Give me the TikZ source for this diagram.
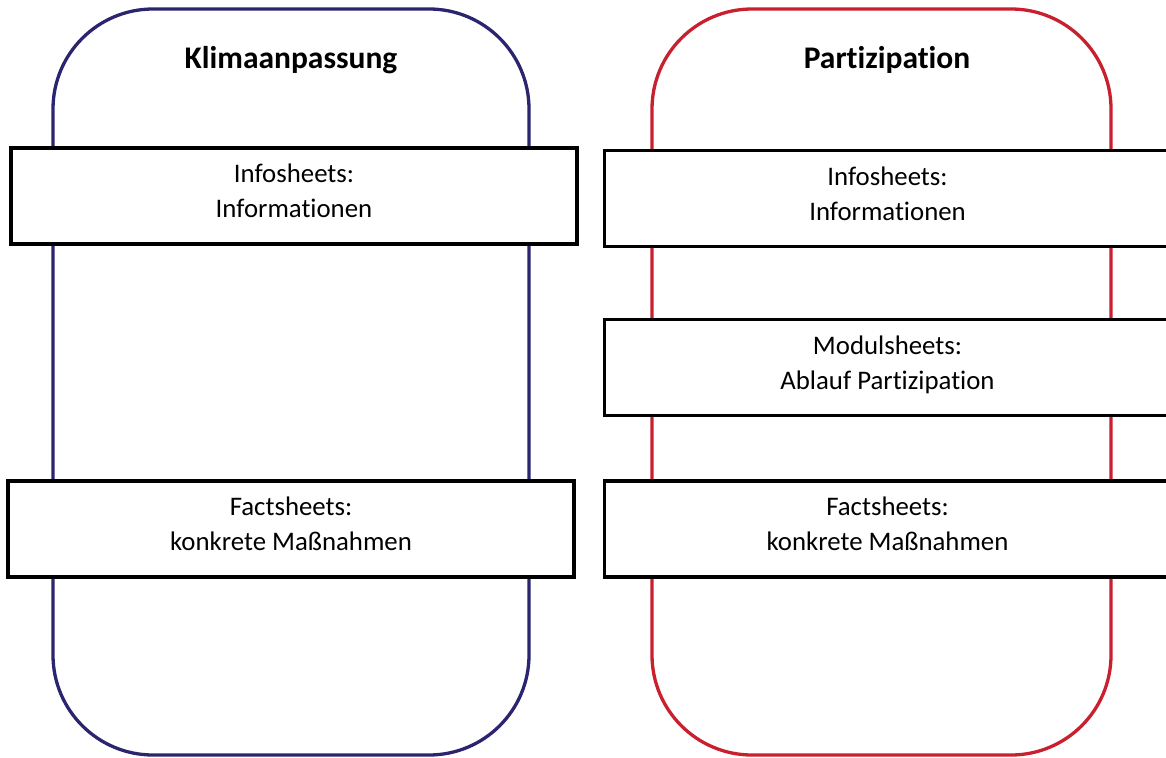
\documentclass[tikz,border=0pt]{standalone}
\usepackage{fontspec}
\setmainfont[Ligatures={NoCommon}]{Carlito}
\definecolor{navy}{HTML}{2B2570}
\definecolor{crimson}{HTML}{C8202F}
\newcommand{\lowstrut}{\rule[-10pt]{0pt}{10pt}}
\begin{document}
\begin{tikzpicture}[x=1pt,y=-1pt,
  container/.style={line width=3.3pt, rounded corners=100pt},
  sheet/.style={draw=black, fill=white, line width=3.3pt, minimum height=96pt, align=center,
    font=\fontsize{26.8}{35}\selectfont, inner sep=0pt},
  title/.style={font=\fontsize{31.5}{36}\selectfont\bfseries}]
\useasboundingbox (0,0) rectangle (1166,757);
\clip (0,0) rectangle (1166,757);
\draw[container, draw=navy] (53,9) rectangle (529,755);
\draw[container, draw=crimson] (652,9) rectangle (1111,755);
\node[title] (t1) at (291,60) {Klimaanpassung};
\node[title] (t2) at (887,60) {Partizipation};
\node[sheet, minimum width=566pt] (l1) at (294,196) {Infosheets:\\Informationen\lowstrut};
\node[sheet, minimum width=566pt] (l2) at (291,529) {Factsheets:\\konkrete Maßnahmen\lowstrut};
\node[sheet, minimum width=566pt] (r1) at (887.5,198.5) {Infosheets:\\Informationen\lowstrut};
\node[sheet, minimum width=566pt] (r2) at (887.5,367.5) {Modulsheets:\\Ablauf Partizipation\lowstrut};
\node[sheet, minimum width=566pt] (r3) at (887.5,529) {Factsheets:\\konkrete Maßnahmen\lowstrut};
\end{tikzpicture}
\end{document}
